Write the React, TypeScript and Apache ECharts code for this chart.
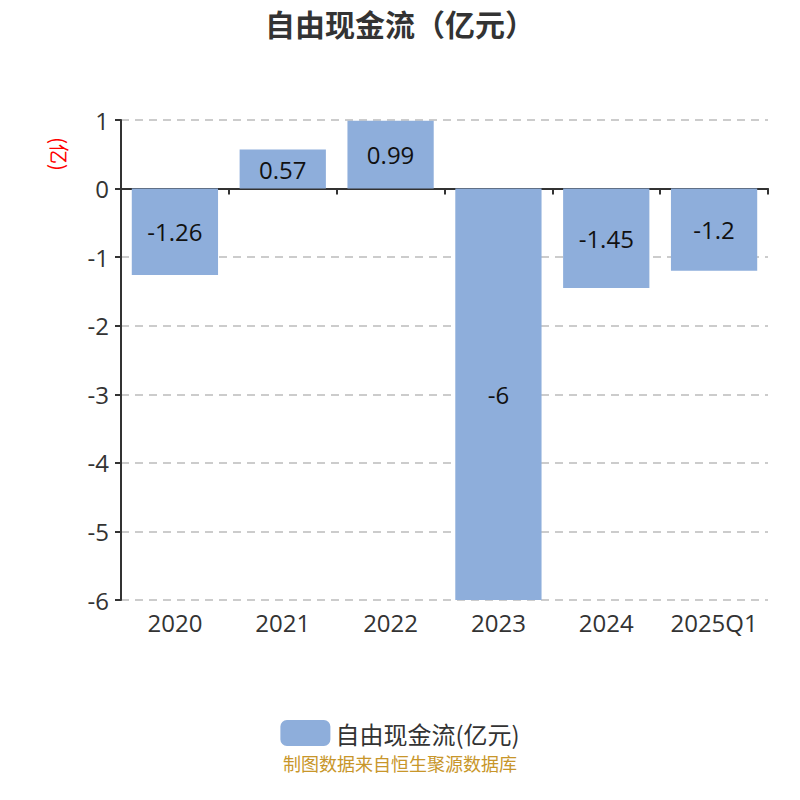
import React, { useEffect, useRef } from "react";
import * as echarts from "echarts";

const categories = ["2020", "2021", "2022", "2023", "2024", "2025Q1"];
const values = [-1.26, 0.57, 0.99, -6, -1.45, -1.2];
const seriesName = "自由现金流(亿元)";

const FONT = "'Open Sans', 'Noto Sans CJK SC', sans-serif";
const CJK = "'Noto Sans CJK SC', sans-serif";

export default function App() {
  const ref = useRef<HTMLDivElement>(null);
  useEffect(() => {
    const chart = echarts.init(ref.current!, null, { renderer: "svg" });
    chart.setOption({
      animation: false,
      textStyle: { fontFamily: FONT },
      title: {
        text: "自由现金流（亿元）",
        left: "center",
        top: 3,
        textStyle: { fontSize: 30, fontWeight: "bold", color: "#333", fontFamily: CJK },
      },
      legend: {
        bottom: 49,
        left: "center",
        itemWidth: 50,
        itemHeight: 26,
        itemGap: 10,
        icon: "roundRect",
        textStyle: { fontSize: 24, color: "#333", fontFamily: CJK, lineHeight: 26 },
        data: [seriesName],
      },
      graphic: [
        {
          type: "text",
          x: 59,
          y: 154,
          rotation: -Math.PI / 2,
          style: {
            text: "(亿)",
            fill: "#ff0000",
            fontSize: 20,
            fontFamily: CJK,
            align: "center",
            verticalAlign: "middle",
          },
        },
        {
          type: "text",
          left: "center",
          top: 754,
          style: {
            text: "制图数据来自恒生聚源数据库",
            fill: "#c8962a",
            fontSize: 18,
            fontFamily: CJK,
          },
        },
      ],
      grid: { left: 121, right: 32, top: 120, bottom: 200 },
      xAxis: [
        {
          type: "category",
          data: categories,
          axisLine: { onZero: true, lineStyle: { color: "#333", width: 2 } },
          axisTick: { show: true, length: 6, lineStyle: { color: "#333", width: 2 } },
          axisLabel: { show: false },
        },
        {
          type: "category",
          data: categories,
          position: "bottom",
          axisLine: { show: false, onZero: false },
          axisTick: { show: false },
          axisLabel: { interval: 0, fontSize: 24, color: "#333", margin: 10, fontFamily: FONT },
        },
      ],
      yAxis: {
        type: "value",
        min: -6,
        max: 1,
        interval: 1,
        axisLine: { show: true, lineStyle: { color: "#333", width: 2 } },
        axisTick: { show: true, length: 6, lineStyle: { color: "#333", width: 2 } },
        axisLabel: { fontSize: 24, color: "#333", margin: 12, fontFamily: FONT },
        splitLine: { lineStyle: { type: [8, 6], color: "#ccc", width: 2 } },
      },
      series: [
        {
          name: seriesName,
          type: "bar",
          data: values,
          barCategoryGap: "20%",
          itemStyle: { color: "#8eaedb" },
          label: {
            show: true,
            position: "inside",
            fontSize: 24,
            color: "#111",
            fontFamily: FONT,
          },
        },
      ],
    });
    return () => chart.dispose();
  }, []);
  return <div ref={ref} style={{ width: 800, height: 800, margin: -8 }} />;
}
